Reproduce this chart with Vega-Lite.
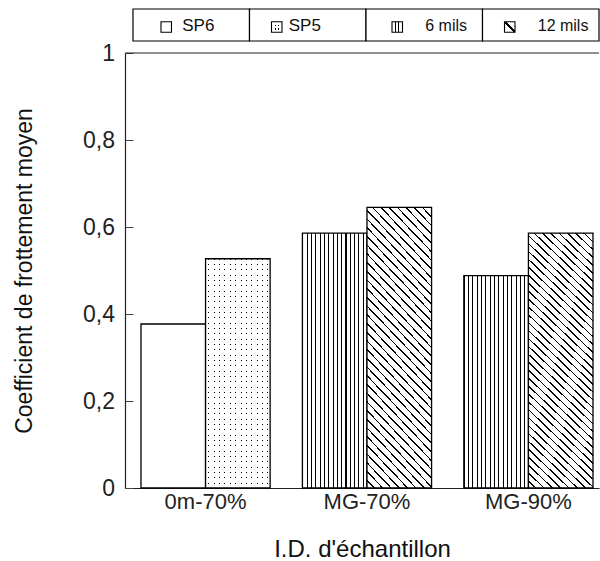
{
  "$schema": "https://vega.github.io/schema/vega-lite/v6.json",
  "background": "white",
  "padding": {"left": 13, "top": 8, "right": 0, "bottom": 0},
  "spacing": 12,
  "bounds": "flush",
  "config": {"font": "Liberation Sans", "view": {"stroke": null}},
  "datasets": {
    "mesures": [
      {"echantillon": "0m-70%", "serie": "SP6", "coefficient": 0.377},
      {"echantillon": "0m-70%", "serie": "SP5", "coefficient": 0.527},
      {"echantillon": "MG-70%", "serie": "6 mils", "coefficient": 0.586},
      {"echantillon": "MG-70%", "serie": "12 mils", "coefficient": 0.645},
      {"echantillon": "MG-90%", "serie": "6 mils", "coefficient": 0.488},
      {"echantillon": "MG-90%", "serie": "12 mils", "coefficient": 0.586}
    ]
  },
  "vconcat": [
    {
      "width": 474,
      "height": 32,
      "data": {"name": "mesures"},
      "transform": [{"aggregate": [{"op": "count", "as": "n"}], "groupby": ["serie"]}],
      "encoding": {
        "x": {"field": "serie", "type": "nominal", "axis": null,
          "scale": {"domain": ["SP6", "SP5", "6 mils", "12 mils"], "paddingInner": 0, "paddingOuter": 0.0343, "align": 1}}
      },
      "layer": [
        {"mark": {"type": "rect", "fill": "white", "stroke": "black", "strokeWidth": 1.2}},
        {"transform": [{"filter": "datum.serie === 'SP6'"}],
         "mark": {"type": "point", "shape": "square", "size": 110, "filled": true, "opacity": 1, "fill": "white", "stroke": "black", "strokeWidth": 1.1, "xOffset": -25, "yOffset": 2}},
        {"transform": [{"filter": "datum.serie === 'SP5'"}],
         "mark": {"type": "point", "shape": "square", "size": 110, "filled": true, "opacity": 1, "strokeWidth": 0, "xOffset": -31, "yOffset": 2,
           "fill": {"gradient": "linear", "x1": 0, "y1": 0, "x2": 0, "y2": 1, "stops": [
             {"offset": 0, "color": "#fff"}, {"offset": 0.3, "color": "#fff"}, {"offset": 0.3, "color": "#000"}, {"offset": 0.42, "color": "#000"}, {"offset": 0.42, "color": "#fff"},
             {"offset": 0.62, "color": "#fff"}, {"offset": 0.62, "color": "#000"}, {"offset": 0.74, "color": "#000"}, {"offset": 0.74, "color": "#fff"}]}}},
        {"transform": [{"filter": "datum.serie === 'SP5'"}],
         "mark": {"type": "point", "shape": "square", "size": 110, "filled": true, "opacity": 1, "stroke": "black", "strokeWidth": 1.1, "xOffset": -31, "yOffset": 2,
           "fill": {"gradient": "linear", "x1": 0, "y1": 0, "x2": 1, "y2": 0, "stops": [
             {"offset": 0, "color": "#fff"}, {"offset": 0.3, "color": "#fff"}, {"offset": 0.3, "color": "rgba(255,255,255,0)"}, {"offset": 0.42, "color": "rgba(255,255,255,0)"}, {"offset": 0.42, "color": "#fff"},
             {"offset": 0.62, "color": "#fff"}, {"offset": 0.62, "color": "rgba(255,255,255,0)"}, {"offset": 0.74, "color": "rgba(255,255,255,0)"}, {"offset": 0.74, "color": "#fff"}]}}},
        {"transform": [{"filter": "datum.serie === '6 mils'"}],
         "mark": {"type": "point", "shape": "square", "size": 110, "filled": true, "opacity": 1, "stroke": "black", "strokeWidth": 1.1, "xOffset": -27, "yOffset": 2,
           "fill": {"gradient": "linear", "x1": 0, "y1": 0, "x2": 1, "y2": 0, "stops": [
             {"offset": 0, "color": "#fff"}, {"offset": 0.3, "color": "#fff"}, {"offset": 0.3, "color": "#000"}, {"offset": 0.4, "color": "#000"}, {"offset": 0.4, "color": "#fff"},
             {"offset": 0.6, "color": "#fff"}, {"offset": 0.6, "color": "#000"}, {"offset": 0.7, "color": "#000"}, {"offset": 0.7, "color": "#fff"}]}}},
        {"transform": [{"filter": "datum.serie === '12 mils'"}],
         "mark": {"type": "point", "shape": "square", "size": 110, "filled": true, "opacity": 1, "stroke": "black", "strokeWidth": 1.1, "xOffset": -31, "yOffset": 2,
           "fill": {"gradient": "linear", "x1": 1, "y1": 0, "x2": 0, "y2": 1, "stops": [
             {"offset": 0, "color": "#fff"}, {"offset": 0.44, "color": "#fff"}, {"offset": 0.44, "color": "#000"}, {"offset": 0.56, "color": "#000"}, {"offset": 0.56, "color": "#fff"}]}}},
        {"transform": [{"filter": "datum.serie === 'SP6'"}],
         "mark": {"type": "text", "align": "left", "baseline": "middle", "fontSize": 17, "color": "#111", "xOffset": -9, "yOffset": 1},
         "encoding": {"text": {"field": "serie"}}},
        {"transform": [{"filter": "datum.serie === 'SP5'"}],
         "mark": {"type": "text", "align": "left", "baseline": "middle", "fontSize": 17, "color": "#111", "xOffset": -19, "yOffset": 1},
         "encoding": {"text": {"field": "serie"}}},
        {"transform": [{"filter": "datum.serie === '6 mils'"}],
         "mark": {"type": "text", "align": "left", "baseline": "middle", "fontSize": 16, "color": "#111", "xOffset": 1, "yOffset": 1},
         "encoding": {"text": {"field": "serie"}}},
        {"transform": [{"filter": "datum.serie === '12 mils'"}],
         "mark": {"type": "text", "align": "left", "baseline": "middle", "fontSize": 16, "color": "#111", "xOffset": -3, "yOffset": 1},
         "encoding": {"text": {"field": "serie"}}}
      ]
    },
    {
      "width": 474,
      "height": 435,
      "layer": [
        {
          "data": {"values": [{}]},
          "mark": {"type": "rule", "color": "#222", "strokeWidth": 1.2},
          "encoding": {"y": {"datum": 1, "type": "quantitative"}}
        },
        {
          "data": {"name": "mesures"},
          "transform": [{"calculate": "datum.serie === 'SP6' || datum.serie === '6 mils' ? 'gauche' : 'droite'", "as": "cote"}],
          "encoding": {
            "x": {"field": "echantillon", "type": "nominal",
              "scale": {"domain": ["0m-70%", "MG-70%", "MG-90%"], "paddingInner": 0.2, "paddingOuter": 0.0681, "align": 0.727},
              "axis": {"title": "I.D. d'échantillon", "ticks": false, "labelAngle": 0, "labelFontSize": 22, "labelColor": "#222", "labelPadding": 3,
                "domainColor": "#222", "domainWidth": 1.2, "titleFontSize": 24, "titleFontWeight": "normal", "titleColor": "#111", "titlePadding": 25}},
            "xOffset": {"field": "cote", "type": "nominal", "scale": {"domain": ["gauche", "droite"], "paddingInner": 0, "paddingOuter": 0}},
            "y": {"field": "coefficient", "type": "quantitative", "scale": {"domain": [0, 1]},
              "axis": {"title": "Coefficient de frottement moyen", "values": [0, 0.2, 0.4, 0.6, 0.8, 1], "grid": false,
                "labelExpr": "replace(format(datum.value, '.1~f'), '.', ',')", "labelFontSize": 23, "labelColor": "#222", "labelPadding": 18.5,
                "tickSize": -8, "tickColor": "#444", "domainColor": "#222", "domainWidth": 1.2,
                "titleFontSize": 23, "titleFontWeight": "normal", "titleColor": "#111", "titlePadding": 46.5}}
          },
          "layer": [
            {"transform": [{"filter": "datum.serie === 'SP6'"}],
             "mark": {"type": "bar", "fill": "white", "stroke": "black", "strokeWidth": 1.3}},
            {"transform": [{"filter": "datum.serie === 'SP5'"}],
             "mark": {"type": "bar", "strokeWidth": 0,
               "fill": {"gradient": "linear", "x1": 0, "y1": 0, "x2": 0, "y2": 1, "stops": [
{"offset":0,"color":"#000"},{"offset":0.0045,"color":"#000"},{"offset":0.0045,"color":"#fff"},{"offset":0.0233,"color":"#fff"},
{"offset":0.0233,"color":"#000"},{"offset":0.0278,"color":"#000"},{"offset":0.0278,"color":"#fff"},{"offset":0.0465,"color":"#fff"},
{"offset":0.0465,"color":"#000"},{"offset":0.051,"color":"#000"},{"offset":0.051,"color":"#fff"},{"offset":0.0698,"color":"#fff"},
{"offset":0.0698,"color":"#000"},{"offset":0.0743,"color":"#000"},{"offset":0.0743,"color":"#fff"},{"offset":0.093,"color":"#fff"},
{"offset":0.093,"color":"#000"},{"offset":0.0975,"color":"#000"},{"offset":0.0975,"color":"#fff"},{"offset":0.1163,"color":"#fff"},
{"offset":0.1163,"color":"#000"},{"offset":0.1208,"color":"#000"},{"offset":0.1208,"color":"#fff"},{"offset":0.1395,"color":"#fff"},
{"offset":0.1395,"color":"#000"},{"offset":0.144,"color":"#000"},{"offset":0.144,"color":"#fff"},{"offset":0.1628,"color":"#fff"},
{"offset":0.1628,"color":"#000"},{"offset":0.1673,"color":"#000"},{"offset":0.1673,"color":"#fff"},{"offset":0.186,"color":"#fff"},
{"offset":0.186,"color":"#000"},{"offset":0.1905,"color":"#000"},{"offset":0.1905,"color":"#fff"},{"offset":0.2093,"color":"#fff"},
{"offset":0.2093,"color":"#000"},{"offset":0.2138,"color":"#000"},{"offset":0.2138,"color":"#fff"},{"offset":0.2326,"color":"#fff"},
{"offset":0.2326,"color":"#000"},{"offset":0.2371,"color":"#000"},{"offset":0.2371,"color":"#fff"},{"offset":0.2558,"color":"#fff"},
{"offset":0.2558,"color":"#000"},{"offset":0.2603,"color":"#000"},{"offset":0.2603,"color":"#fff"},{"offset":0.2791,"color":"#fff"},
{"offset":0.2791,"color":"#000"},{"offset":0.2836,"color":"#000"},{"offset":0.2836,"color":"#fff"},{"offset":0.3023,"color":"#fff"},
{"offset":0.3023,"color":"#000"},{"offset":0.3068,"color":"#000"},{"offset":0.3068,"color":"#fff"},{"offset":0.3256,"color":"#fff"},
{"offset":0.3256,"color":"#000"},{"offset":0.3301,"color":"#000"},{"offset":0.3301,"color":"#fff"},{"offset":0.3488,"color":"#fff"},
{"offset":0.3488,"color":"#000"},{"offset":0.3533,"color":"#000"},{"offset":0.3533,"color":"#fff"},{"offset":0.3721,"color":"#fff"},
{"offset":0.3721,"color":"#000"},{"offset":0.3766,"color":"#000"},{"offset":0.3766,"color":"#fff"},{"offset":0.3953,"color":"#fff"},
{"offset":0.3953,"color":"#000"},{"offset":0.3998,"color":"#000"},{"offset":0.3998,"color":"#fff"},{"offset":0.4186,"color":"#fff"},
{"offset":0.4186,"color":"#000"},{"offset":0.4231,"color":"#000"},{"offset":0.4231,"color":"#fff"},{"offset":0.4419,"color":"#fff"},
{"offset":0.4419,"color":"#000"},{"offset":0.4464,"color":"#000"},{"offset":0.4464,"color":"#fff"},{"offset":0.4651,"color":"#fff"},
{"offset":0.4651,"color":"#000"},{"offset":0.4696,"color":"#000"},{"offset":0.4696,"color":"#fff"},{"offset":0.4884,"color":"#fff"},
{"offset":0.4884,"color":"#000"},{"offset":0.4929,"color":"#000"},{"offset":0.4929,"color":"#fff"},{"offset":0.5116,"color":"#fff"},
{"offset":0.5116,"color":"#000"},{"offset":0.5161,"color":"#000"},{"offset":0.5161,"color":"#fff"},{"offset":0.5349,"color":"#fff"},
{"offset":0.5349,"color":"#000"},{"offset":0.5394,"color":"#000"},{"offset":0.5394,"color":"#fff"},{"offset":0.5581,"color":"#fff"},
{"offset":0.5581,"color":"#000"},{"offset":0.5626,"color":"#000"},{"offset":0.5626,"color":"#fff"},{"offset":0.5814,"color":"#fff"},
{"offset":0.5814,"color":"#000"},{"offset":0.5859,"color":"#000"},{"offset":0.5859,"color":"#fff"},{"offset":0.6047,"color":"#fff"},
{"offset":0.6047,"color":"#000"},{"offset":0.6092,"color":"#000"},{"offset":0.6092,"color":"#fff"},{"offset":0.6279,"color":"#fff"},
{"offset":0.6279,"color":"#000"},{"offset":0.6324,"color":"#000"},{"offset":0.6324,"color":"#fff"},{"offset":0.6512,"color":"#fff"},
{"offset":0.6512,"color":"#000"},{"offset":0.6557,"color":"#000"},{"offset":0.6557,"color":"#fff"},{"offset":0.6744,"color":"#fff"},
{"offset":0.6744,"color":"#000"},{"offset":0.6789,"color":"#000"},{"offset":0.6789,"color":"#fff"},{"offset":0.6977,"color":"#fff"},
{"offset":0.6977,"color":"#000"},{"offset":0.7022,"color":"#000"},{"offset":0.7022,"color":"#fff"},{"offset":0.7209,"color":"#fff"},
{"offset":0.7209,"color":"#000"},{"offset":0.7254,"color":"#000"},{"offset":0.7254,"color":"#fff"},{"offset":0.7442,"color":"#fff"},
{"offset":0.7442,"color":"#000"},{"offset":0.7487,"color":"#000"},{"offset":0.7487,"color":"#fff"},{"offset":0.7674,"color":"#fff"},
{"offset":0.7674,"color":"#000"},{"offset":0.7719,"color":"#000"},{"offset":0.7719,"color":"#fff"},{"offset":0.7907,"color":"#fff"},
{"offset":0.7907,"color":"#000"},{"offset":0.7952,"color":"#000"},{"offset":0.7952,"color":"#fff"},{"offset":0.814,"color":"#fff"},
{"offset":0.814,"color":"#000"},{"offset":0.8185,"color":"#000"},{"offset":0.8185,"color":"#fff"},{"offset":0.8372,"color":"#fff"},
{"offset":0.8372,"color":"#000"},{"offset":0.8417,"color":"#000"},{"offset":0.8417,"color":"#fff"},{"offset":0.8605,"color":"#fff"},
{"offset":0.8605,"color":"#000"},{"offset":0.865,"color":"#000"},{"offset":0.865,"color":"#fff"},{"offset":0.8837,"color":"#fff"},
{"offset":0.8837,"color":"#000"},{"offset":0.8882,"color":"#000"},{"offset":0.8882,"color":"#fff"},{"offset":0.907,"color":"#fff"},
{"offset":0.907,"color":"#000"},{"offset":0.9115,"color":"#000"},{"offset":0.9115,"color":"#fff"},{"offset":0.9302,"color":"#fff"},
{"offset":0.9302,"color":"#000"},{"offset":0.9347,"color":"#000"},{"offset":0.9347,"color":"#fff"},{"offset":0.9535,"color":"#fff"},
{"offset":0.9535,"color":"#000"},{"offset":0.958,"color":"#000"},{"offset":0.958,"color":"#fff"},{"offset":0.9767,"color":"#fff"},
{"offset":0.9767,"color":"#000"},{"offset":0.9812,"color":"#000"},{"offset":0.9812,"color":"#fff"},{"offset":1,"color":"#fff"}
               ]}}},
            {"transform": [{"filter": "datum.serie === 'SP5'"}],
             "mark": {"type": "bar", "stroke": "black", "strokeWidth": 1.3,
               "fill": {"gradient": "linear", "x1": 0, "y1": 0, "x2": 1, "y2": 0, "stops": [
{"offset":0,"color":"#fff"},
{"offset":0.0417,"color":"#fff"},{"offset":0.0417,"color":"rgba(255,255,255,0)"},{"offset":0.0577,"color":"rgba(255,255,255,0)"},{"offset":0.0577,"color":"#fff"},
{"offset":0.125,"color":"#fff"},{"offset":0.125,"color":"rgba(255,255,255,0)"},{"offset":0.141,"color":"rgba(255,255,255,0)"},{"offset":0.141,"color":"#fff"},
{"offset":0.2083,"color":"#fff"},{"offset":0.2083,"color":"rgba(255,255,255,0)"},{"offset":0.2243,"color":"rgba(255,255,255,0)"},{"offset":0.2243,"color":"#fff"},
{"offset":0.2917,"color":"#fff"},{"offset":0.2917,"color":"rgba(255,255,255,0)"},{"offset":0.3077,"color":"rgba(255,255,255,0)"},{"offset":0.3077,"color":"#fff"},
{"offset":0.375,"color":"#fff"},{"offset":0.375,"color":"rgba(255,255,255,0)"},{"offset":0.391,"color":"rgba(255,255,255,0)"},{"offset":0.391,"color":"#fff"},
{"offset":0.4583,"color":"#fff"},{"offset":0.4583,"color":"rgba(255,255,255,0)"},{"offset":0.4743,"color":"rgba(255,255,255,0)"},{"offset":0.4743,"color":"#fff"},
{"offset":0.5417,"color":"#fff"},{"offset":0.5417,"color":"rgba(255,255,255,0)"},{"offset":0.5577,"color":"rgba(255,255,255,0)"},{"offset":0.5577,"color":"#fff"},
{"offset":0.625,"color":"#fff"},{"offset":0.625,"color":"rgba(255,255,255,0)"},{"offset":0.641,"color":"rgba(255,255,255,0)"},{"offset":0.641,"color":"#fff"},
{"offset":0.7083,"color":"#fff"},{"offset":0.7083,"color":"rgba(255,255,255,0)"},{"offset":0.7243,"color":"rgba(255,255,255,0)"},{"offset":0.7243,"color":"#fff"},
{"offset":0.7917,"color":"#fff"},{"offset":0.7917,"color":"rgba(255,255,255,0)"},{"offset":0.8077,"color":"rgba(255,255,255,0)"},{"offset":0.8077,"color":"#fff"},
{"offset":0.875,"color":"#fff"},{"offset":0.875,"color":"rgba(255,255,255,0)"},{"offset":0.891,"color":"rgba(255,255,255,0)"},{"offset":0.891,"color":"#fff"},
{"offset":0.9583,"color":"#fff"},{"offset":0.9583,"color":"rgba(255,255,255,0)"},{"offset":0.9743,"color":"rgba(255,255,255,0)"},{"offset":0.9743,"color":"#fff"}
               ]}}},
            {"transform": [{"filter": "datum.serie === '6 mils'"}],
             "mark": {"type": "bar", "stroke": "black", "strokeWidth": 1.3,
               "fill": {"gradient": "linear", "x1": 0, "y1": 0, "x2": 1, "y2": 0, "stops": [
{"offset":0,"color":"#000"},{"offset":0.016,"color":"#000"},{"offset":0.016,"color":"#fff"},{"offset":0.0667,"color":"#fff"},
{"offset":0.0667,"color":"#000"},{"offset":0.0827,"color":"#000"},{"offset":0.0827,"color":"#fff"},{"offset":0.1333,"color":"#fff"},
{"offset":0.1333,"color":"#000"},{"offset":0.1493,"color":"#000"},{"offset":0.1493,"color":"#fff"},{"offset":0.2,"color":"#fff"},
{"offset":0.2,"color":"#000"},{"offset":0.216,"color":"#000"},{"offset":0.216,"color":"#fff"},{"offset":0.2667,"color":"#fff"},
{"offset":0.2667,"color":"#000"},{"offset":0.2827,"color":"#000"},{"offset":0.2827,"color":"#fff"},{"offset":0.3333,"color":"#fff"},
{"offset":0.3333,"color":"#000"},{"offset":0.3493,"color":"#000"},{"offset":0.3493,"color":"#fff"},{"offset":0.4,"color":"#fff"},
{"offset":0.4,"color":"#000"},{"offset":0.416,"color":"#000"},{"offset":0.416,"color":"#fff"},{"offset":0.4667,"color":"#fff"},
{"offset":0.4667,"color":"#000"},{"offset":0.4827,"color":"#000"},{"offset":0.4827,"color":"#fff"},{"offset":0.5333,"color":"#fff"},
{"offset":0.5333,"color":"#000"},{"offset":0.5493,"color":"#000"},{"offset":0.5493,"color":"#fff"},{"offset":0.6,"color":"#fff"},
{"offset":0.6,"color":"#000"},{"offset":0.616,"color":"#000"},{"offset":0.616,"color":"#fff"},{"offset":0.6667,"color":"#fff"},
{"offset":0.6667,"color":"#000"},{"offset":0.6827,"color":"#000"},{"offset":0.6827,"color":"#fff"},{"offset":0.7333,"color":"#fff"},
{"offset":0.7333,"color":"#000"},{"offset":0.7493,"color":"#000"},{"offset":0.7493,"color":"#fff"},{"offset":0.8,"color":"#fff"},
{"offset":0.8,"color":"#000"},{"offset":0.816,"color":"#000"},{"offset":0.816,"color":"#fff"},{"offset":0.8667,"color":"#fff"},
{"offset":0.8667,"color":"#000"},{"offset":0.8827,"color":"#000"},{"offset":0.8827,"color":"#fff"},{"offset":0.9333,"color":"#fff"},
{"offset":0.9333,"color":"#000"},{"offset":0.9493,"color":"#000"},{"offset":0.9493,"color":"#fff"},{"offset":1,"color":"#fff"}
               ]}}},
            {"transform": [{"filter": "datum.serie === '12 mils'"}],
             "mark": {"type": "bar", "stroke": "black", "strokeWidth": 1.3,
               "fill": {"gradient": "linear", "x1": 1, "y1": 0, "x2": 0.7167, "y2": 1.1731, "stops": [
{"offset":0,"color":"#000"},{"offset":0.005,"color":"#000"},{"offset":0.005,"color":"#fff"},{"offset":0.025,"color":"#fff"},
{"offset":0.025,"color":"#000"},{"offset":0.03,"color":"#000"},{"offset":0.03,"color":"#fff"},{"offset":0.05,"color":"#fff"},
{"offset":0.05,"color":"#000"},{"offset":0.055,"color":"#000"},{"offset":0.055,"color":"#fff"},{"offset":0.075,"color":"#fff"},
{"offset":0.075,"color":"#000"},{"offset":0.08,"color":"#000"},{"offset":0.08,"color":"#fff"},{"offset":0.1,"color":"#fff"},
{"offset":0.1,"color":"#000"},{"offset":0.105,"color":"#000"},{"offset":0.105,"color":"#fff"},{"offset":0.125,"color":"#fff"},
{"offset":0.125,"color":"#000"},{"offset":0.13,"color":"#000"},{"offset":0.13,"color":"#fff"},{"offset":0.15,"color":"#fff"},
{"offset":0.15,"color":"#000"},{"offset":0.155,"color":"#000"},{"offset":0.155,"color":"#fff"},{"offset":0.175,"color":"#fff"},
{"offset":0.175,"color":"#000"},{"offset":0.18,"color":"#000"},{"offset":0.18,"color":"#fff"},{"offset":0.2,"color":"#fff"},
{"offset":0.2,"color":"#000"},{"offset":0.205,"color":"#000"},{"offset":0.205,"color":"#fff"},{"offset":0.225,"color":"#fff"},
{"offset":0.225,"color":"#000"},{"offset":0.23,"color":"#000"},{"offset":0.23,"color":"#fff"},{"offset":0.25,"color":"#fff"},
{"offset":0.25,"color":"#000"},{"offset":0.255,"color":"#000"},{"offset":0.255,"color":"#fff"},{"offset":0.275,"color":"#fff"},
{"offset":0.275,"color":"#000"},{"offset":0.28,"color":"#000"},{"offset":0.28,"color":"#fff"},{"offset":0.3,"color":"#fff"},
{"offset":0.3,"color":"#000"},{"offset":0.305,"color":"#000"},{"offset":0.305,"color":"#fff"},{"offset":0.325,"color":"#fff"},
{"offset":0.325,"color":"#000"},{"offset":0.33,"color":"#000"},{"offset":0.33,"color":"#fff"},{"offset":0.35,"color":"#fff"},
{"offset":0.35,"color":"#000"},{"offset":0.355,"color":"#000"},{"offset":0.355,"color":"#fff"},{"offset":0.375,"color":"#fff"},
{"offset":0.375,"color":"#000"},{"offset":0.38,"color":"#000"},{"offset":0.38,"color":"#fff"},{"offset":0.4,"color":"#fff"},
{"offset":0.4,"color":"#000"},{"offset":0.405,"color":"#000"},{"offset":0.405,"color":"#fff"},{"offset":0.425,"color":"#fff"},
{"offset":0.425,"color":"#000"},{"offset":0.43,"color":"#000"},{"offset":0.43,"color":"#fff"},{"offset":0.45,"color":"#fff"},
{"offset":0.45,"color":"#000"},{"offset":0.455,"color":"#000"},{"offset":0.455,"color":"#fff"},{"offset":0.475,"color":"#fff"},
{"offset":0.475,"color":"#000"},{"offset":0.48,"color":"#000"},{"offset":0.48,"color":"#fff"},{"offset":0.5,"color":"#fff"},
{"offset":0.5,"color":"#000"},{"offset":0.505,"color":"#000"},{"offset":0.505,"color":"#fff"},{"offset":0.525,"color":"#fff"},
{"offset":0.525,"color":"#000"},{"offset":0.53,"color":"#000"},{"offset":0.53,"color":"#fff"},{"offset":0.55,"color":"#fff"},
{"offset":0.55,"color":"#000"},{"offset":0.555,"color":"#000"},{"offset":0.555,"color":"#fff"},{"offset":0.575,"color":"#fff"},
{"offset":0.575,"color":"#000"},{"offset":0.58,"color":"#000"},{"offset":0.58,"color":"#fff"},{"offset":0.6,"color":"#fff"},
{"offset":0.6,"color":"#000"},{"offset":0.605,"color":"#000"},{"offset":0.605,"color":"#fff"},{"offset":0.625,"color":"#fff"},
{"offset":0.625,"color":"#000"},{"offset":0.63,"color":"#000"},{"offset":0.63,"color":"#fff"},{"offset":0.65,"color":"#fff"},
{"offset":0.65,"color":"#000"},{"offset":0.655,"color":"#000"},{"offset":0.655,"color":"#fff"},{"offset":0.675,"color":"#fff"},
{"offset":0.675,"color":"#000"},{"offset":0.68,"color":"#000"},{"offset":0.68,"color":"#fff"},{"offset":0.7,"color":"#fff"},
{"offset":0.7,"color":"#000"},{"offset":0.705,"color":"#000"},{"offset":0.705,"color":"#fff"},{"offset":0.725,"color":"#fff"},
{"offset":0.725,"color":"#000"},{"offset":0.73,"color":"#000"},{"offset":0.73,"color":"#fff"},{"offset":0.75,"color":"#fff"},
{"offset":0.75,"color":"#000"},{"offset":0.755,"color":"#000"},{"offset":0.755,"color":"#fff"},{"offset":0.775,"color":"#fff"},
{"offset":0.775,"color":"#000"},{"offset":0.78,"color":"#000"},{"offset":0.78,"color":"#fff"},{"offset":0.8,"color":"#fff"},
{"offset":0.8,"color":"#000"},{"offset":0.805,"color":"#000"},{"offset":0.805,"color":"#fff"},{"offset":0.825,"color":"#fff"},
{"offset":0.825,"color":"#000"},{"offset":0.83,"color":"#000"},{"offset":0.83,"color":"#fff"},{"offset":0.85,"color":"#fff"},
{"offset":0.85,"color":"#000"},{"offset":0.855,"color":"#000"},{"offset":0.855,"color":"#fff"},{"offset":0.875,"color":"#fff"},
{"offset":0.875,"color":"#000"},{"offset":0.88,"color":"#000"},{"offset":0.88,"color":"#fff"},{"offset":0.9,"color":"#fff"},
{"offset":0.9,"color":"#000"},{"offset":0.905,"color":"#000"},{"offset":0.905,"color":"#fff"},{"offset":0.925,"color":"#fff"},
{"offset":0.925,"color":"#000"},{"offset":0.93,"color":"#000"},{"offset":0.93,"color":"#fff"},{"offset":0.95,"color":"#fff"},
{"offset":0.95,"color":"#000"},{"offset":0.955,"color":"#000"},{"offset":0.955,"color":"#fff"},{"offset":0.975,"color":"#fff"},
{"offset":0.975,"color":"#000"},{"offset":0.98,"color":"#000"},{"offset":0.98,"color":"#fff"},{"offset":1,"color":"#fff"}
               ]}}}
          ]
        }
      ]
    }
  ]
}
